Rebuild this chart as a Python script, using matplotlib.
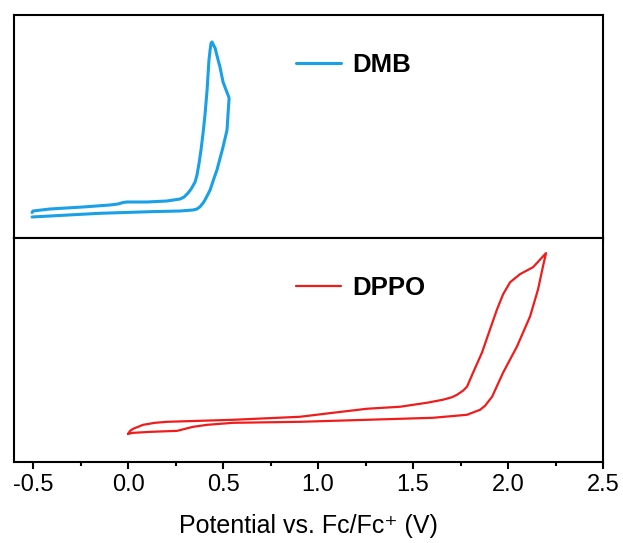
import numpy as np
import matplotlib
matplotlib.use('Agg')
import matplotlib.pyplot as plt
from matplotlib.ticker import MultipleLocator

plt.rcParams['font.family'] = ['Liberation Sans', 'DejaVu Sans']

# DMB cyclic voltammogram (potential in V vs Fc/Fc+, current in a.u.)
dmb_v = [-0.505, -0.411, -0.147, 0.116, 0.274, 0.342, 0.363, 0.379, 0.395,
         0.405, 0.432, 0.453, 0.468, 0.500, 0.521, 0.526, 0.532,
         0.526, 0.500, 0.484, 0.474, 0.458, 0.447, 0.442, 0.437, 0.432,
         0.426, 0.416, 0.405, 0.395, 0.384, 0.374, 0.363, 0.353, 0.332,
         0.316, 0.295, 0.274, 0.205, 0.100, -0.005, -0.026, -0.053,
         -0.095, -0.237, -0.411, -0.500, -0.505]
dmb_i = [21.0, 22.0, 24.7, 26.3, 27.0, 28.0, 29.0, 31.3, 35.0,
         38.0, 48.0, 60.0, 68.0, 91.0, 108.0, 123.0, 140.0,
         143.0, 156.0, 171.0, 178.0, 190.0, 194.0, 196.0, 195.0, 188.0,
         178.0, 148.0, 123.0, 105.0, 88.0, 75.0, 63.0, 56.0, 49.0,
         45.0, 41.0, 39.0, 37.0, 36.0, 36.0, 35.5, 34.0,
         33.0, 31.0, 29.0, 27.0, 25.5]

# DPPO cyclic voltammogram
dppo_v = [0.000, 0.011, 0.026, 0.053, 0.079, 0.142, 0.205, 0.553, 0.905,
          1.079, 1.258, 1.432, 1.574, 1.658, 1.705, 1.732, 1.763, 1.784,
          1.816, 1.863, 1.905, 1.942, 1.974, 2.011, 2.063, 2.132, 2.200,
          2.184, 2.158, 2.116, 2.047, 1.974, 1.916, 1.879, 1.853, 1.784,
          1.605, 1.258, 0.905, 0.553, 0.416, 0.342, 0.300, 0.258, 0.116,
          0.026, 0.000]
dppo_i = [28.0, 31.0, 33.0, 35.0, 37.0, 39.0, 40.0, 42.0, 45.0,
          49.0, 53.0, 55.0, 59.0, 62.0, 64.5, 67.0, 71.0, 75.0,
          89.0, 109.0, 132.0, 152.0, 167.0, 179.0, 187.0, 194.0, 208.0,
          195.0, 172.0, 145.0, 115.0, 89.0, 65.0, 56.0, 52.0, 47.0,
          44.0, 42.0, 40.0, 39.0, 37.0, 35.0, 33.0, 31.0, 30.0,
          29.0, 28.0]

xticks = [-0.5, 0.0, 0.5, 1.0, 1.5, 2.0, 2.5]
xticklabels = ['-0.5', '0.0', '0.5', '1.0', '1.5', '2.0', '2.5']

fig = plt.figure(figsize=(6.23, 5.43), dpi=100)
ax1 = fig.add_axes([0.0225, 0.5617, 0.9455, 0.4107])
ax2 = fig.add_axes([0.0225, 0.1492, 0.9455, 0.4125])

ax1.plot(dmb_v, dmb_i, color='#1AA0E6', lw=2.2, label='DMB',
         solid_joinstyle='round', solid_capstyle='round')
ax2.plot(dppo_v, dppo_i, color='#F01C1C', lw=1.6, label='DPPO',
         solid_joinstyle='round', solid_capstyle='round')

for ax in (ax1, ax2):
    ax.set_xlim(-0.6, 2.5)
    ax.set_ylim(0, 223)
    ax.set_xticks(xticks)
    ax.xaxis.set_minor_locator(MultipleLocator(0.25))
    ax.tick_params(axis='x', which='major', direction='out', length=5, width=1.5)
    ax.tick_params(axis='x', which='minor', direction='out', length=3, width=1.5)
    ax.set_yticks([])
    for s in ax.spines.values():
        s.set_linewidth(1.5)
    ax.legend(loc='center left', bbox_to_anchor=(0.479, 0.776), frameon=False,
              borderpad=0, borderaxespad=0, handlelength=1.75, handletextpad=0.45,
              prop={'weight': 'bold', 'size': 18.5})

ax1.tick_params(axis='x', labelbottom=False)
ax2.set_xticklabels(xticklabels)
ax2.tick_params(axis='x', labelsize=17)
ax2.set_xlabel('Potential vs. Fc/Fc\u207a (V)', fontsize=18, labelpad=13)

fig.savefig('out.png', dpi=100)
